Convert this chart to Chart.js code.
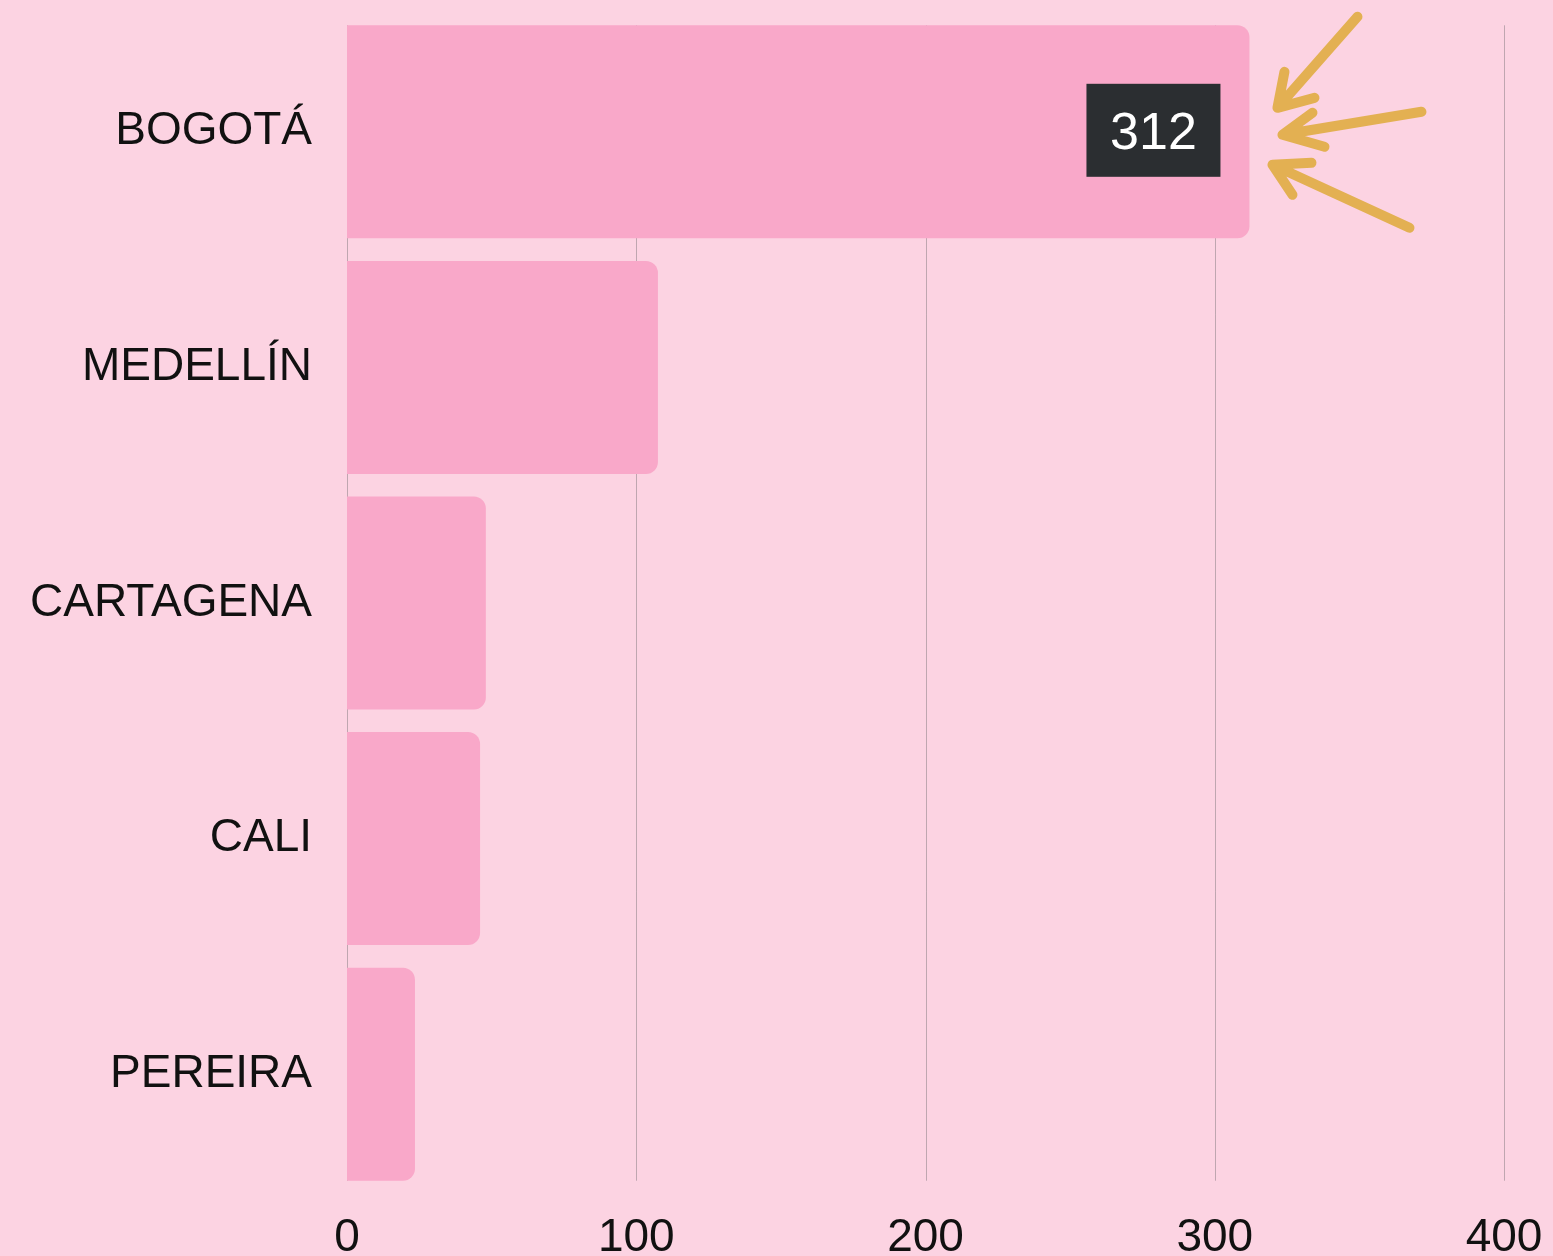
<!DOCTYPE html>
<html>
<head>
<meta charset="utf-8">
<script src="https://cdn.jsdelivr.net/npm/chart.js@4"></script>
<style>
  html, body { margin: 0; padding: 0; background: #fcd3e2; }
  #wrap { width: 1553px; height: 1256px; position: relative; }
</style>
</head>
<body>
<div id="wrap"><canvas id="barChart"></canvas></div>
<script>
const cities = ['BOGOTÁ', 'MEDELLÍN', 'CARTAGENA', 'CALI', 'PEREIRA'];
const counts = [312, 107.5, 48, 46, 23.5];
const xTicks = [0, 100, 200, 300, 400];
const highlightIndex = 0;

// grid lines only as tall as the bars
const gridPlugin = {
    id: 'shortGrid',
    beforeDatasetsDraw(chart) {
        const ctx = chart.ctx;
        const bars = chart.getDatasetMeta(0).data;
        const top = bars[0].y - bars[0].height / 2;
        const bottom = bars[bars.length - 1].y + bars[bars.length - 1].height / 2;
        const x = chart.scales.x;
        ctx.save();
        ctx.strokeStyle = 'rgba(140,130,135,0.55)';
        ctx.lineWidth = 1;
        xTicks.forEach(v => {
            const px = Math.round(x.getPixelForValue(v)) + 0.5;
            ctx.beginPath();
            ctx.moveTo(px, top);
            ctx.lineTo(px, bottom);
            ctx.stroke();
        });
        ctx.restore();
    }
};

// value badge + hand drawn arrows on the top bar
const badgePlugin = {
    id: 'badge',
    afterDatasetsDraw(chart) {
        const ctx = chart.ctx;
        const bar = chart.getDatasetMeta(0).data[highlightIndex];
        const ex = bar.x, cy = bar.y;
        ctx.save();
        ctx.fillStyle = '#2b2e31';
        ctx.fillRect(ex - 163, cy - 48, 134, 93);
        ctx.fillStyle = '#ffffff';
        ctx.font = '52px "Liberation Sans", Arial, sans-serif';
        ctx.textAlign = 'center';
        ctx.textBaseline = 'middle';
        ctx.fillText(String(counts[highlightIndex]), ex - 96, cy + 3);

        ctx.strokeStyle = '#e3b052';
        ctx.lineWidth = 10;
        ctx.lineCap = 'round';
        ctx.lineJoin = 'round';
        const arrows = [
            [[108, -115], [28, -24], [35, -60], [28, -24], [65, -34]],
            [[172, -20], [33, 3], [63, -19], [33, 3], [75, 15]],
            [[160, 96], [23, 33], [62, 31], [23, 33], [43, 63]]
        ];
        arrows.forEach(a => {
            ctx.beginPath();
            ctx.moveTo(ex + a[0][0], cy + a[0][1]);
            ctx.lineTo(ex + a[1][0], cy + a[1][1]);
            ctx.moveTo(ex + a[2][0], cy + a[2][1]);
            ctx.lineTo(ex + a[3][0], cy + a[3][1]);
            ctx.lineTo(ex + a[4][0], cy + a[4][1]);
            ctx.stroke();
        });
        ctx.restore();
    }
};

const ctx = document.getElementById('barChart').getContext('2d');
new Chart(ctx, {
    type: 'bar',
    data: {
        labels: cities,
        datasets: [{
            data: counts,
            backgroundColor: '#f9a8c9',
            borderRadius: 12,
            borderSkipped: 'start',
            categoryPercentage: 1,
            barPercentage: 0.904
        }]
    },
    options: {
        indexAxis: 'y',
        responsive: true,
        maintainAspectRatio: false,
        animation: false,
        layout: { padding: { top: 14, right: 49, left: 0, bottom: 0 } },
        plugins: {
            legend: { display: false },
            tooltip: { enabled: false }
        },
        scales: {
            x: {
                min: 0,
                max: 400,
                afterBuildTicks: s => { s.ticks = xTicks.map(v => ({ value: v })); },
                afterFit: s => { s.height = 64; s.paddingLeft = 0; s.paddingRight = 0; },
                grid: { display: false, drawTicks: false },
                border: { display: false },
                ticks: {
                    color: '#111',
                    padding: 19,
                    maxRotation: 0,
                    font: { family: '"Liberation Sans", Arial, sans-serif', size: 46 }
                }
            },
            y: {
                afterFit: s => { s.width = 347; s.paddingTop = 0; s.paddingBottom = 0; },
                grid: { display: false, drawTicks: false },
                border: { display: false },
                ticks: {
                    color: '#111',
                    padding: 35,
                    font: { family: '"Liberation Sans", Arial, sans-serif', size: 46 }
                }
            }
        }
    },
    plugins: [gridPlugin, badgePlugin]
});
</script>
</body>
</html>
